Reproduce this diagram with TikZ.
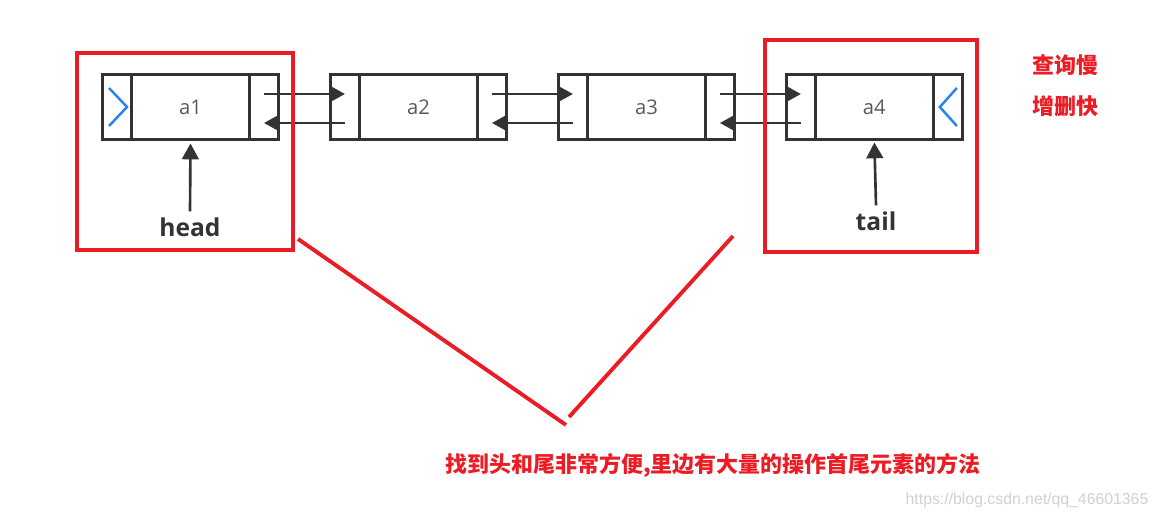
\documentclass[tikz,border=0pt]{standalone}
\usepackage{fontspec}
\setmainfont{Open Sans}
\newfontfamily\cjk{Noto Sans CJK SC}
\newfontfamily\wmfont{Liberation Sans}
\usetikzlibrary{positioning,arrows.meta,calc}

\colorlet{nodeline}{black!80}
\colorlet{nodetext}{black!65}
\definecolor{markred}{RGB}{236,28,36}
\definecolor{pointerblue}{RGB}{40,130,240}

\tikzset{
  cell/.style={draw=nodeline, line width=1.5pt, outer sep=0pt, inner sep=0pt,
    minimum width=2.36cm, minimum height=1.3cm, text=nodetext, font=\fontsize{11.5}{13}\selectfont},
  side/.style={draw=nodeline, line width=1.5pt, outer sep=0pt, inner sep=0pt,
    minimum width=0.58cm, minimum height=1.3cm},
  link/.style={draw=nodeline, line width=1.5pt, -{Triangle[length=9pt,width=9.5pt]}},
  frame/.style={draw=markred, line width=2.2pt},
  note/.style={text=markred, font=\cjk\bfseries\fontsize{12.5}{15}\selectfont},
}

\begin{document}
\begin{tikzpicture}[x=0.02cm, y=-0.02cm]
  \useasboundingbox (0,0) rectangle (1158,519);

  % list nodes
  \node[cell] (a1) at (190.5,107) {a1};
  \node[side, left=0pt of a1] (a1l) {};
  \node[side, right=0pt of a1] (a1r) {};
  \foreach \p/\n in {1/2,2/3,3/4}{
    \node[side, right=1.04cm of a\p r] (a\n l) {};
    \node[cell, right=0pt of a\n l] (a\n) {a\n};
    \node[side, right=0pt of a\n] (a\n r) {};
  }

  % next / prev links
  \foreach \p/\n in {1/2,2/3,3/4}{
    \draw[link] ($(a\p r.center)+(0,-13)$) -- ($(a\n l.center)+(0,-13)$);
    \draw[link] ($(a\n l.center)+(0,16)$) -- ($(a\p r.center)+(0,16)$);
  }

  % end markers
  \draw[pointerblue, line width=1.4pt] ($(a1l.center)+(-8,-19)$) -- ($(a1l.center)+(10,0)$) -- ($(a1l.center)+(-8,19)$);
  \draw[pointerblue, line width=1.4pt] ($(a4r.center)+(9,-19)$) -- ($(a4r.center)+(-8,0)$) -- ($(a4r.center)+(9,19)$);

  % head and tail
  \node[font=\bfseries\fontsize{14}{16}\selectfont, text=nodeline] (head) at (190,227) {head};
  \node[font=\bfseries\fontsize{14}{16}\selectfont, text=nodeline] (tail) at (876,221) {tail};
  \draw[link] (head.north) -- ($(a1.south)+(0,4)$);
  \draw[link] (tail.north) -- ($(a4.south)+(0,3)$);

  % red frames
  \draw[frame] (77,53) rectangle (293,250);
  \draw[frame] (765,40) rectangle (977,252);

  \node[note] (slow) at (1065,65) {查询慢};
  \node[note] (fast) at (1065,106) {增删快};

  % remark
  \coordinate (v_n1) at (298,239);
  \coordinate (v_n2) at (566,425);
  \coordinate (v_n3) at (733,236);
  \coordinate (v_n4) at (569,417);
  \draw[markred, line width=2.2pt] (v_n1) -- (v_n2);
  \draw[markred, line width=2.2pt] (v_n3) -- (v_n4);
  \node[note] (remark) at (713,465) {找到头和尾非常方便,里边有大量的操作首尾元素的方法};

  \node[text=black!18, font=\wmfont\fontsize{9}{11}\selectfont] (wm) at (1027,500) {https://blog.csdn.net/qq\_46601365};
\end{tikzpicture}
\end{document}
